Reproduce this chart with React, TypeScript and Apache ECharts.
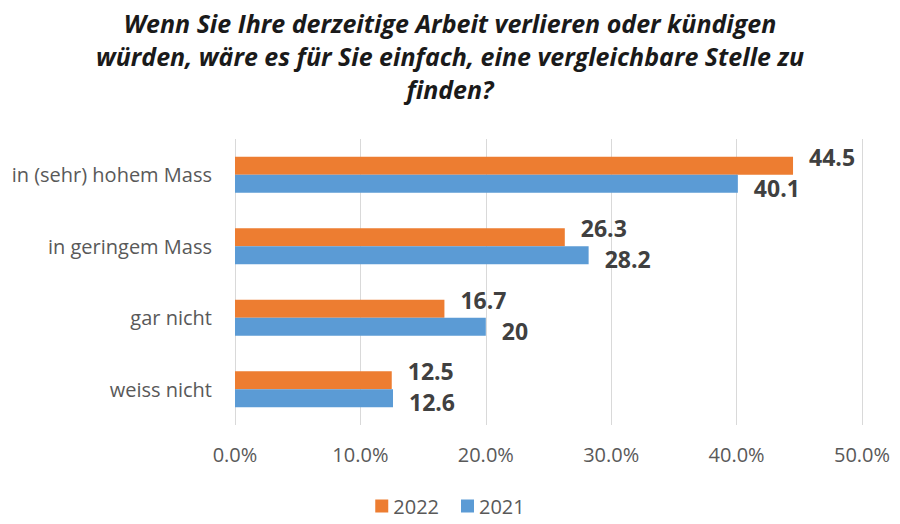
import React, { useEffect, useRef } from "react";
import * as echarts from "echarts";

const titleLines = [
  "Wenn Sie Ihre derzeitige Arbeit verlieren oder kündigen",
  "würden, wäre es für Sie einfach, eine vergleichbare Stelle zu",
  "finden?",
];
const categories = ["in (sehr) hohem Mass", "in geringem Mass", "gar nicht", "weiss nicht"];
const values2022 = [44.5, 26.3, 16.7, 12.5];
const values2021 = [40.1, 28.2, 20, 12.6];
const seriesNames = ["2022", "2021"];
const xTicks = { min: 0, max: 50, interval: 10 };

const FONT = "'Open Sans', 'Noto Sans', sans-serif";

export default function App() {
  const ref = useRef<HTMLDivElement>(null);
  useEffect(() => {
    if (!ref.current) return;
    const chart = echarts.init(ref.current, null, { renderer: "svg" });
    const labelStyle = {
      show: true,
      position: "right",
      distance: 16,
      fontFamily: FONT,
      fontWeight: "bold",
      fontSize: 23,
      lineHeight: 22,
      color: "#404040",
      formatter: (p: any) => String(p.value),
    };
    chart.setOption({
      animation: false,
      backgroundColor: "#ffffff",
      title: {
        text: titleLines.join("\n"),
        left: "center",
        top: 1,
        textStyle: {
          fontFamily: FONT,
          fontWeight: "bold",
          fontStyle: "italic",
          fontSize: 25,
          lineHeight: 33,
          color: "#1a1a1a",
        },
      },
      legend: {
        bottom: 3,
        left: "center",
        itemWidth: 13,
        itemHeight: 13,
        itemGap: 22,
        icon: "rect",
        textStyle: { fontFamily: FONT, fontSize: 20, color: "#595959" },
        data: seriesNames,
      },
      grid: { left: 235, right: 38, top: 139, bottom: 99, containLabel: false },
      xAxis: {
        type: "value",
        min: xTicks.min,
        max: xTicks.max,
        interval: xTicks.interval,
        axisLine: { show: false },
        axisTick: { show: false },
        splitLine: { show: true, lineStyle: { color: "#d9d9d9", width: 1 } },
        axisLabel: {
          margin: 19,
          fontFamily: FONT,
          fontSize: 20,
          color: "#595959",
          formatter: (v: number) => v.toFixed(1) + "%",
        },
      },
      yAxis: {
        type: "category",
        inverse: true,
        data: categories,
        axisLine: { show: false },
        axisTick: { show: false },
        axisLabel: { margin: 23, fontFamily: FONT, fontSize: 20, color: "#595959" },
      },
      series: [
        {
          name: seriesNames[0],
          type: "bar",
          data: values2022,
          barWidth: 18,
          barGap: "0%",
          itemStyle: { color: "#ED7D31" },
          label: { ...labelStyle, offset: [0, -9] },
        },
        {
          name: seriesNames[1],
          type: "bar",
          data: values2021,
          barWidth: 18,
          barGap: "0%",
          itemStyle: { color: "#5B9BD5" },
          label: { ...labelStyle, offset: [0, 4] },
        },
      ],
    });
    return () => chart.dispose();
  }, []);
  return (
    <div
      ref={ref}
      style={{ position: "fixed", left: 0, top: 0, width: 900, height: 524 }}
    />
  );
}
